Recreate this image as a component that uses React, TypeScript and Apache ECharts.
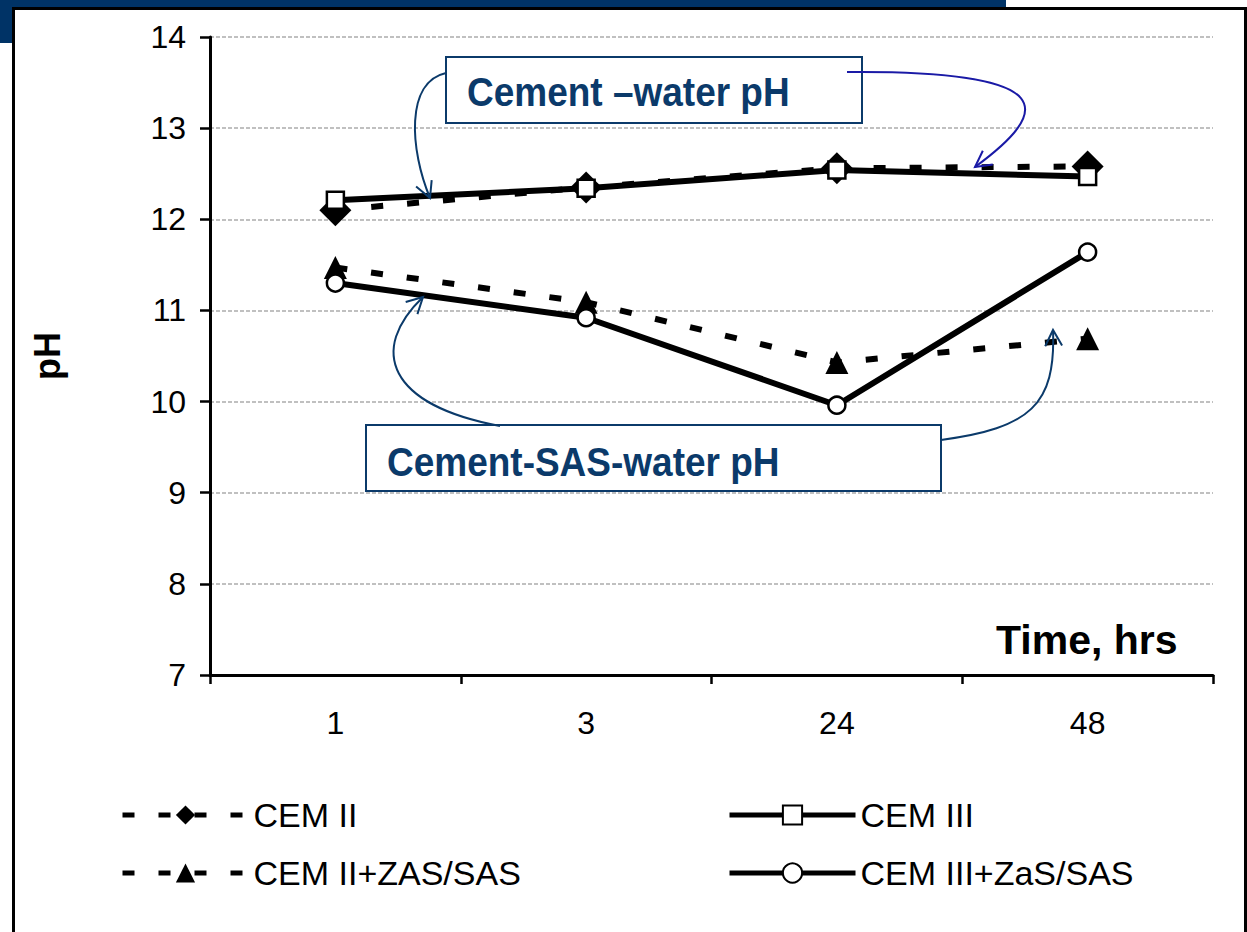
import React, { useEffect, useRef } from "react";
import * as echarts from "echarts";

const categories = ["1", "3", "24", "48"];
const cem2 = [12.1, 12.35, 12.56, 12.58];
const cem3 = [12.21, 12.34, 12.54, 12.47];
const cem2Sas = [11.47, 11.09, 10.43, 10.69];
const cem3Sas = [11.3, 10.92, 9.96, 11.64];
const yMin = 7;
const yMax = 14;
const yInterval = 1;
const legendLeft = ["CEM II", "CEM II+ZAS/SAS"];
const legendRight = ["CEM III", "CEM III+ZaS/SAS"];

const FONT = '"Liberation Sans", Arial, sans-serif';
const NAVY = "#0b3a6a";
const BRIGHT = "#1a1aa6";
const DASH = [12, 24];

function arrowHead(tx: number, ty: number, fx: number, fy: number, len: number, color: string) {
  const ang = Math.atan2(ty - fy, tx - fx);
  const spread = (28 * Math.PI) / 180;
  const p1 = [tx - len * Math.cos(ang - spread), ty - len * Math.sin(ang - spread)];
  const p2 = [tx - len * Math.cos(ang + spread), ty - len * Math.sin(ang + spread)];
  return {
    type: "polyline",
    z: 100,
    shape: { points: [p1, [tx, ty], p2] },
    style: { stroke: color, lineWidth: 2, fill: "none" },
  };
}

function curve(x1: number, y1: number, c1x: number, c1y: number, c2x: number, c2y: number, x2: number, y2: number, color: string) {
  return [
    {
      type: "bezierCurve",
      z: 100,
      shape: { x1, y1, cpx1: c1x, cpy1: c1y, cpx2: c2x, cpy2: c2y, x2, y2 },
      style: { stroke: color, lineWidth: 2, fill: "none" },
    },
    arrowHead(x2, y2, c2x, c2y, 18, color),
  ];
}

export default function App() {
  const ref = useRef<HTMLDivElement>(null);

  useEffect(() => {
    document.body.style.margin = "0";
    if (!ref.current) return;
    const chart = echarts.init(ref.current, null, { renderer: "svg" });

    const baseSeries = (name: string, data: number[], symbol: string, size: number, dashed: boolean, filled: boolean) => ({
      name,
      type: "line",
      data,
      symbol,
      symbolSize: size,
      showAllSymbol: true,
      lineStyle: { color: "#000", width: 6, type: dashed ? DASH : "solid" },
      itemStyle: filled
        ? { color: "#000", borderColor: "#000", borderWidth: 0 }
        : { color: "#fff", borderColor: "#000", borderWidth: 2.5 },
      emphasis: { disabled: true },
    });

    const legendCommon = {
      orient: "vertical",
      padding: 0,
      itemWidth: 126,
      itemHeight: 24,
      itemGap: 24,
      textStyle: { fontSize: 34, color: "#000", fontFamily: FONT },
      selectedMode: false,
    };

    chart.setOption({
      animation: false,
      textStyle: { fontFamily: FONT },
      grid: { left: 210, top: 37, right: 34, bottom: 257, containLabel: false },
      legend: [
        { ...legendCommon, data: legendLeft, left: 120, top: 798, lineStyle: { width: 5, type: DASH, color: "#000" } },
        { ...legendCommon, data: legendRight, left: 727, top: 798, lineStyle: { width: 5, type: "solid", color: "#000" } },
      ],
      xAxis: {
        type: "category",
        data: categories,
        boundaryGap: true,
        axisLine: { lineStyle: { color: "#000", width: 3 } },
        axisTick: { show: true, length: 9, lineStyle: { color: "#000", width: 2.5 } },
        axisLabel: { fontSize: 32, color: "#000", margin: 32, fontFamily: FONT },
        splitLine: { show: false },
      },
      yAxis: {
        type: "value",
        min: yMin,
        max: yMax,
        interval: yInterval,
        name: "pH",
        nameLocation: "middle",
        nameRotate: 90,
        nameGap: 145,
        nameTextStyle: { fontSize: 36, fontWeight: "bold", color: "#000", fontFamily: FONT },
        axisLine: { show: true, lineStyle: { color: "#000", width: 3 } },
        axisTick: { show: true, length: 10, lineStyle: { color: "#000", width: 2.5 } },
        axisLabel: { fontSize: 32, color: "#000", margin: 24, fontFamily: FONT },
        splitLine: { show: true, lineStyle: { color: "#acacac", width: 1.5, type: [4, 2] } },
      },
      series: [
        baseSeries("CEM II", cem2, "diamond", 32, true, true),
        baseSeries("CEM III", cem3, "rect", 17, false, false),
        baseSeries("CEM II+ZAS/SAS", cem2Sas, "triangle", 23, true, true),
        baseSeries("CEM III+ZaS/SAS", cem3Sas, "circle", 17, false, false),
      ],
      graphic: [
        {
          type: "text",
          z: 100,
          x: 996,
          y: 640,
          style: { text: "Time, hrs", fontSize: 41, fontWeight: "bold", fontFamily: FONT, fill: "#000", verticalAlign: "middle", align: "left" },
        },
        {
          type: "rect",
          z: 99,
          shape: { x: 446, y: 57, width: 416, height: 66 },
          style: { fill: "#fff", stroke: NAVY, lineWidth: 2 },
        },
        {
          type: "text",
          z: 100,
          x: 467,
          y: 91,
          scaleY: 1.12,
          style: { text: "Cement \u2013water pH", fontSize: 37, fontWeight: "bold", fontFamily: FONT, fill: NAVY, verticalAlign: "middle", align: "left" },
        },
        {
          type: "rect",
          z: 99,
          shape: { x: 366, y: 425, width: 575, height: 66 },
          style: { fill: "#fff", stroke: NAVY, lineWidth: 2 },
        },
        {
          type: "text",
          z: 100,
          x: 387,
          y: 461,
          scaleY: 1.12,
          style: { text: "Cement-SAS-water pH", fontSize: 37, fontWeight: "bold", fontFamily: FONT, fill: NAVY, verticalAlign: "middle", align: "left" },
        },
        ...curve(446, 73, 405, 82, 410, 150, 430, 198, NAVY),
        ...curve(847, 72, 1065, 70, 1050, 112, 975, 167, BRIGHT),
        ...curve(500, 426, 388, 405, 368, 350, 423, 297, NAVY),
        ...curve(941, 440, 1030, 428, 1056, 405, 1053, 330, NAVY),
      ],
    });

    return () => chart.dispose();
  }, []);

  return (
    <div style={{ position: "relative", width: 1247, height: 932, overflow: "hidden", background: "#fff" }}>
      <div style={{ position: "absolute", left: 0, top: 0, width: 1006, height: 8, background: "#003366" }} />
      <div style={{ position: "absolute", left: 0, top: 0, width: 13, height: 43, background: "#003366" }} />
      <div
        style={{
          position: "absolute",
          left: 12,
          top: 7,
          width: 1229,
          height: 960,
          border: "3px solid #000",
          background: "#fff",
          boxSizing: "content-box",
        }}
      />
      <div ref={ref} style={{ position: "absolute", left: 0, top: 0, width: 1247, height: 932 }} />
    </div>
  );
}
